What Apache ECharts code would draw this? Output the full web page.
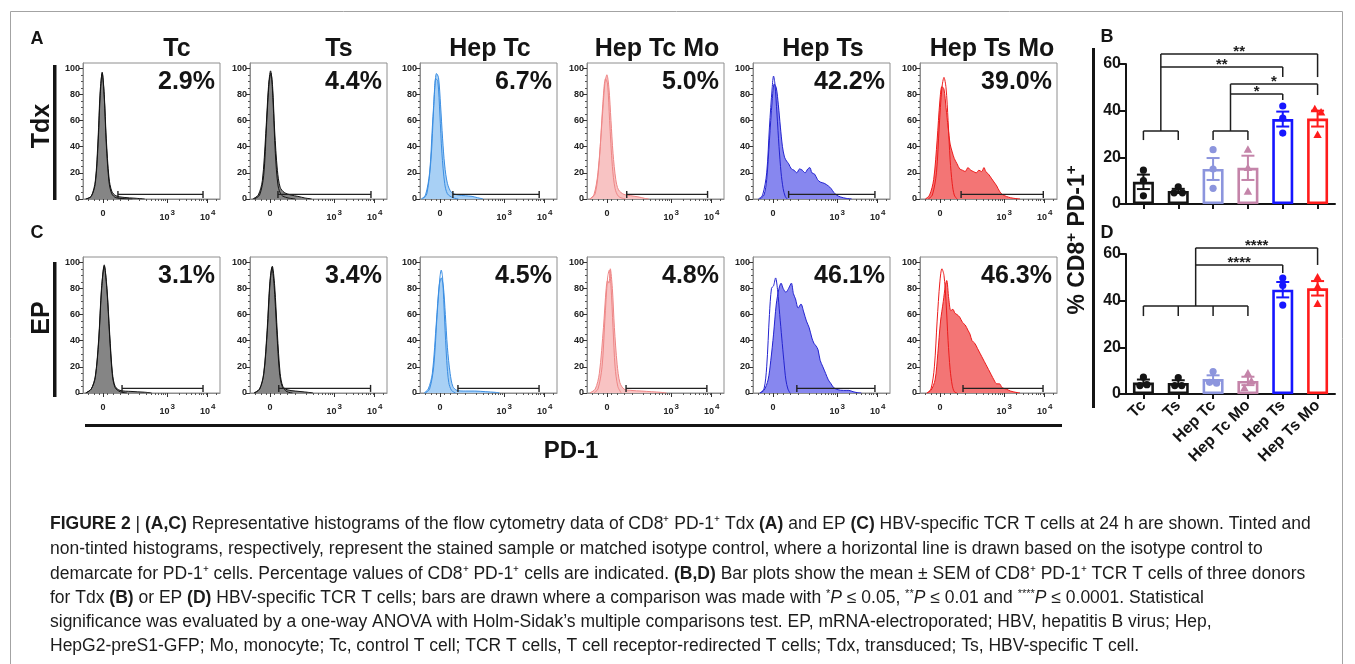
<!DOCTYPE html>
<html>
<head>
<meta charset="utf-8">
<script src="https://cdn.jsdelivr.net/npm/echarts@6/dist/echarts.min.js"></script>
<style>
  html, body { margin: 0; padding: 0; background: #ffffff; }
  #chart { width: 1355px; height: 664px; }
</style>
</head>
<body>
<div id="chart"></div>
<script>
// ---------- Histogram panels (A: Tdx, C: EP) ----------
const histTitles = ['Tc', 'Ts', 'Hep Tc', 'Hep Tc Mo', 'Hep Ts', 'Hep Ts Mo'];
const rowLabels = ['Tdx', 'EP'];
const tdxPercent = ['2.9%', '4.4%', '6.7%', '5.0%', '42.2%', '39.0%'];
const epPercent = ['3.1%', '3.4%', '4.5%', '4.8%', '46.1%', '46.3%'];

// PD-1 axis is drawn on a 0-100 display scale (biexponential position)
const histTickPos = [14.6, 61.5, 91];
const histTickLabels = ['0', '10^3', '10^4'];
const histMinorTicks = [4, 8, 11.5, 18, 22, 27, 33, 40.9, 46.1, 49.8, 52.6, 54.9, 56.9, 58.6, 60.2,
  70.4, 75.6, 79.3, 82.1, 84.5, 86.4, 88.1, 89.6, 97];
const histYTicks = [0, 20, 40, 60, 80, 100];
const histYMinor = [5, 10, 15, 25, 30, 35, 45, 50, 55, 65, 70, 75, 85, 90, 95];

// Stained (tinted) histograms, Tdx row: [PD-1 position, % of max]
const tdxStained = [
  [[2,0],[6,2],[9,12],[11,42],[12.5,78],[14,97],[15.5,80],[17,46],[19,16],[21,6],[24,2.5],[30,1.2],[38,0.6],[45,0]],
  [[2,0],[6,3],[9,14],[11.5,50],[13.5,86],[15,98],[16.5,86],[18,52],[20,22],[22,9],[25,5],[30,3],[35,2],[40,0.8],[45,0]],
  [[1,0],[4,3],[7,20],[9,55],[11,88],[12,96],[13.5,93],[15,72],[16.5,46],[18,26],[20,12],[23,5],[28,3],[33,2.5],[38,2],[42,1],[46,0]],
  [[2,0],[5,3],[8,20],[11,60],[13,88],[14.5,95],[16,85],[17.5,60],[19,35],[21,15],[23,7],[27,3.5],[32,2.5],[38,1.5],[42,0.5],[45,0]],
  [[5,0],[8,3],[10,15],[12,45],[14,75],[15.5,88],[17,85],[18.5,72],[20,55],[21.5,40],[23,32],[24.5,29],[26,27],[28,23],[30,22],[32,20],[34,23],[36,22],[38,20],[40,23],[41.5,24],[43,20],[45,19],[47,15],[49,13],[52,12],[55,10],[57,8],[59,5],[61,3],[64,1.5],[68,0.5],[72,0]],
  [[4,0],[7,3],[10,15],[12.5,45],[14.5,75],[16,86],[17.5,84],[19,70],[20.5,55],[22,42],[23.5,36],[25,31],[27,27],[29,23],[31,22],[33,21],[35,24],[37,22],[39,21],[41,20],[43,22],[45,21],[46.7,24],[48,21],[50,19],[52,16],[54,13],[56,10],[58,6],[60,3.5],[63,2],[66,1],[70,0.3],[73,0]]
];
// Isotype control (outline) histograms, Tdx row
const tdxIsotype = [
  [[2,0],[6,2],[9,14],[11,46],[12.5,82],[14,96],[15.5,78],[17,42],[19,13],[21,4],[24,1],[30,0.3],[36,0]],
  [[3,0],[7,3],[10,18],[12,55],[14,90],[15.3,96],[16.8,75],[18.5,35],[20.5,10],[23,3],[27,1],[33,0]],
  [[2,0],[5,4],[8,30],[10,70],[11.5,92],[13,90],[14.5,65],[16,35],[18,12],[20,4],[24,1],[28,0]],
  [[2,0],[6,4],[9,30],[11.5,72],[13.5,92],[15,88],[16.5,60],[18.5,25],[20.5,8],[23,2],[28,0]],
  [[4,0],[7,3],[10,20],[12,55],[14,85],[15,94],[16,88],[17.5,65],[19,40],[20.5,20],[22,8],[23.5,2],[25,0]],
  [[6,0],[9,3],[12,20],[14,55],[16,85],[17.5,93],[19,85],[20.5,60],[22,30],[23.5,12],[25,3],[27,0]]
];
// Stained histograms, EP row
const epStained = [
  [[2,0],[6,3],[9,12],[11.5,40],[13.5,78],[15.5,98],[17.5,80],[19.5,45],[21.5,15],[23.5,5],[27,2],[35,1.2],[45,0.6],[50,0]],
  [[3,0],[7,3],[10,14],[12.5,45],[14.5,82],[16.3,97],[18,82],[20,45],[22,15],[24,5],[27,2.5],[33,1.5],[40,0.8],[46,0]],
  [[3,0],[6,3],[9,15],[12,55],[14,82],[15.5,88],[17,82],[18.5,60],[20,35],[22,15],[24,5],[27,2],[33,1.5],[40,1.5],[48,1],[55,0.5],[58,0]],
  [[2,0],[6,3],[9,15],[12,50],[14,80],[15,86],[16,84],[17,95],[18.5,80],[20,50],[22,22],[24,8],[27,3],[32,2],[40,1.5],[47,1],[54,0.5],[58,0]],
  [[5,0],[8,2],[11,10],[13,25],[15,45],[17,68],[19,80],[20.5,84],[22,80],[24,77],[26,80],[28,84],[29.5,76],[31,72],[33,65],[35,68],[37,62],[39,55],[41,50],[43,42],[44.5,38],[46,36],[47.5,33],[49,25],[51,20],[53,15],[55,10],[57,7],[59,4],[62,2.5],[66,2],[70,2],[73,1],[76,0.3],[79,0]],
  [[5,0],[8,2],[11,10],[13,30],[15,55],[17,70],[18.5,82],[19.5,86],[21,72],[22.5,63],[24,64],[25.5,61],[27,60],[29,58],[31,54],[33,52],[35,48],[36.5,45],[38,40],[40,38],[42,34],[44,30],[46,26],[48,22],[50,18],[52,14],[54,10],[56,7],[58,7],[60,4],[63,3],[66,1.5],[70,0.5],[73,0]]
];
// Isotype control histograms, EP row
const epIsotype = [
  [[2,0],[6,3],[9,13],[11.5,42],[13.5,80],[15.5,97],[17.5,78],[19.5,42],[21.5,13],[23.5,4],[27,1],[32,0]],
  [[3,0],[7,3],[10,15],[12.5,48],[14.5,85],[16,96],[17.5,84],[19.5,48],[21.5,16],[23.5,5],[27,1],[31,0]],
  [[4,0],[7,3],[10,20],[12.5,60],[14.5,88],[15.5,94],[16.5,88],[18,55],[19.5,25],[21,8],[23,2],[26,0]],
  [[5,0],[8,3],[11,20],[13,55],[15,88],[16.3,94],[17.5,82],[19,50],[20.5,20],[22.5,5],[25,0]],
  [[5,0],[8,3],[10,20],[12,60],[13.5,80],[15,82],[16.5,88],[18,78],[19.5,60],[21,42],[22.5,25],[24,10],[25.5,3],[27,0]],
  [[5,0],[8,3],[10.5,20],[12.5,55],[14.5,85],[16,95],[17.5,90],[19,70],[20.5,40],[22,18],[23.5,6],[25,1],[27,0]]
];
// PD-1+ gates set on the isotype control: [start, end] on the PD-1 scale
const tdxGate = [[25.5, 87.6], [20.4, 88.3], [24, 87], [29, 88], [26, 89], [30, 90]];
const epGate = [[28.5, 87.6], [21, 88], [27.7, 86.9], [28.5, 87.5], [32, 89], [31.4, 89.8]];
const gateLevel = 3.5;

// ---------- Bar plots (B: Tdx, D: EP) ----------
const groups = ['Tc', 'Ts', 'Hep Tc', 'Hep Tc Mo', 'Hep Ts', 'Hep Ts Mo'];
const tdxMean = [9.5, 5.6, 15.0, 15.5, 36.4, 36.6];
const tdxSem = [3.1, 0.9, 4.7, 5.2, 3.2, 3.4];
const tdxDonors = [[14.5, 10, 3.5], [7.3, 4.8, 4.8], [23.3, 15, 6.7], [23.3, 15.5, 5.3], [42, 36.8, 30.4], [40.7, 39.3, 29.7]];
const tdxJitter = [[0, 0, 0], [0, -0.12, 0.12], [0, 0, 0], [0, 0, 0], [0, 0, 0], [-0.08, 0.1, 0]];
const epMean = [4.9, 4.7, 6.4, 5.6, 44.7, 45.3];
const epSem = [1.3, 1.2, 1.6, 1.8, 3.3, 3.1];
const epDonors = [[7.2, 3.6, 4.0], [7.0, 3.6, 3.6], [9.6, 5.0, 4.6], [8.9, 5.5, 2.6], [49.7, 46.5, 38.1], [50.0, 46.1, 38.7]];
const epJitter = [[0, -0.1, 0.1], [0, -0.1, 0.1], [0, -0.1, 0.1], [0, 0.1, -0.1], [0, 0, 0], [0, 0, 0]];

// Significance comparisons: [from category, to category, line value, end value, stars]
const tdxCompare = [[0.5, 5, 64.3, 54.4, '**'], [0.5, 4, 58.7, 54.4, '**'], [2.5, 5, 51.4, 46.7, '*'], [2.5, 4, 47.1, 44.6, '*']];
// Pooled groups: [first category, last category, line value, end value, stem category, stem top]
const tdxPools = [[0, 1, 31.3, 27.4, 0.5, 64.3], [2, 3, 31.3, 27.4, 2.5, 51.4]];
const epCompare = [[1.5, 5, 62.6, 55.3, '****'], [1.5, 4, 55.3, 51.9, '****']];
const epPools = [[0, 3, 37.7, 33.4, 1.5, 62.6]];

const captionLines = [
  '{b|FIGURE 2} | {b|(A,C)} Representative histograms of the flow cytometry data of CD8⁺ PD-1⁺ Tdx {b|(A)} and EP {b|(C)} HBV-specific TCR T cells at 24 h are shown. Tinted and',
  'non-tinted histograms, respectively, represent the stained sample or matched isotype control, where a horizontal line is drawn based on the isotype control to',
  'demarcate for PD-1⁺ cells. Percentage values of CD8⁺ PD-1⁺ cells are indicated. {b|(B,D)} Bar plots show the mean ± SEM of CD8⁺ PD-1⁺ TCR T cells of three donors',
  'for Tdx {b|(B)} or EP {b|(D)} HBV-specific TCR T cells; bars are drawn where a comparison was made with {s|*}{i|P} ≤ 0.05, {s|**}{i|P} ≤ 0.01 and {s|****}{i|P} ≤ 0.0001. Statistical',
  'significance was evaluated by a one-way ANOVA with Holm-Sidak’s multiple comparisons test. EP, mRNA-electroporated; HBV, hepatitis B virus; Hep,',
  'HepG2-preS1-GFP; Mo, monocyte; Tc, control T cell; TCR T cells, T cell receptor-redirected T cells; Tdx, transduced; Ts, HBV-specific T cell.'
];

// ---------- Styling and layout ----------
const FONT = '"Liberation Sans", Arial, Helvetica, sans-serif';
const INK = '#141414';
const histColors = [
  { fill: '#858585', line: '#141414' },
  { fill: '#858585', line: '#141414' },
  { fill: '#a8d0f5', line: '#3b8ee2' },
  { fill: '#f8c3c3', line: '#ee8686' },
  { fill: '#8787ef', line: '#2323cf' },
  { fill: '#f37575', line: '#ec1c1c' }
];
const groupColors = ['#141414', '#141414', '#8c95dd', '#c484a9', '#1616ff', '#ff1c1c'];
const groupMarker = ['circle', 'circle', 'circle', 'triangle', 'circle', 'triangle'];

const colLeft = [83, 250, 420, 587, 753, 920];
const PANEL_W = 137, PANEL_H = 136;
const rowTop = [63, 257];
const titleX = [177, 339, 490, 657, 823, 992];

const chart = echarts.init(document.getElementById('chart'), null, { renderer: 'canvas', width: 1355, height: 664 });

const grids = [], xAxes = [], yAxes = [], series = [], graphics = [];

function histTickText(v) {
  const k = histTickPos.indexOf(v);
  const t = k < 0 ? '' : histTickLabels[k];
  const parts = t.split('^');
  return parts.length === 2 ? '{n|' + parts[0] + '}{s|' + parts[1] + '}' : '{n|' + t + '}';
}

const rows = [
  { stained: tdxStained, isotype: tdxIsotype, gate: tdxGate, pct: tdxPercent },
  { stained: epStained, isotype: epIsotype, gate: epGate, pct: epPercent }
];

rows.forEach((row, r) => {
  for (let c = 0; c < 6; c++) {
    const g = grids.length;
    grids.push({ left: colLeft[c], top: rowTop[r], width: PANEL_W, height: PANEL_H, show: true, borderColor: '#8e8e8e', borderWidth: 1 });
    const xi = xAxes.length;
    xAxes.push({
      gridIndex: g, type: 'value', min: 0, max: 100, position: 'bottom',
      axisLine: { show: true, onZero: false, lineStyle: { color: '#8e8e8e', width: 1 } },
      axisTick: { show: true, customValues: histTickPos, length: 4, lineStyle: { color: '#333', width: 1 } },
      axisLabel: {
        show: true, customValues: histTickPos, formatter: histTickText, margin: 10,
        rich: {
          n: { fontFamily: FONT, fontSize: 9, fontWeight: 'bold', color: '#222' },
          s: { fontFamily: FONT, fontSize: 8, fontWeight: 'bold', color: '#222', padding: [0, 0, 10, 1] }
        }
      },
      splitLine: { show: false }
    });
    xAxes.push({
      gridIndex: g, type: 'value', min: 0, max: 100, position: 'bottom',
      axisLine: { show: false },
      axisTick: { show: true, customValues: histMinorTicks, length: 2, lineStyle: { color: '#555', width: 1 } },
      axisLabel: { show: false }, splitLine: { show: false }
    });
    const yi = yAxes.length;
    yAxes.push({
      gridIndex: g, type: 'value', min: 0, max: 104, position: 'left',
      axisLine: { show: true, onZero: false, lineStyle: { color: '#8e8e8e', width: 1 } },
      axisTick: { show: true, customValues: histYTicks, length: 4, lineStyle: { color: '#333', width: 1 } },
      axisLabel: { show: true, customValues: histYTicks, margin: 3, fontFamily: FONT, fontSize: 9, fontWeight: 'bold', color: '#222' },
      splitLine: { show: false }
    });
    yAxes.push({
      gridIndex: g, type: 'value', min: 0, max: 104, position: 'left',
      axisLine: { show: false },
      axisTick: { show: true, customValues: histYMinor, length: 2, lineStyle: { color: '#555', width: 1 } },
      axisLabel: { show: false }, splitLine: { show: false }
    });
    const col = histColors[c];
    series.push({
      type: 'line', xAxisIndex: xi, yAxisIndex: yi, data: row.stained[c], smooth: 0.3,
      showSymbol: false, symbol: 'none', silent: true, z: 2,
      lineStyle: { color: col.line, width: 1 },
      areaStyle: { color: col.fill, opacity: 1 }
    });
    series.push({
      type: 'line', xAxisIndex: xi, yAxisIndex: yi, data: row.isotype[c], smooth: 0.3,
      showSymbol: false, symbol: 'none', silent: true, z: 3,
      lineStyle: { color: col.line, width: 1 }
    });
    series.push({
      type: 'line', xAxisIndex: xi, yAxisIndex: yi,
      data: [[row.gate[c][0], gateLevel], [row.gate[c][1], gateLevel]],
      symbol: 'rect', symbolSize: [1.4, 7], showSymbol: true, silent: true, z: 4,
      lineStyle: { color: '#222', width: 1.3 }, itemStyle: { color: '#222' }
    });
    graphics.push({
      type: 'text', x: colLeft[c] + PANEL_W - 5, y: rowTop[r] + 19,
      style: { text: row.pct[c], align: 'right', verticalAlign: 'middle', textAlign: 'right', textVerticalAlign: 'middle',
        fontFamily: FONT, fontSize: 25, fontWeight: 'bold', fill: INK }
    });
  }
});

// column titles
histTitles.forEach((t, c) => {
  graphics.push({ type: 'text', x: titleX[c], y: 49,
    style: { text: t, align: 'center', verticalAlign: 'middle', textAlign: 'center', textVerticalAlign: 'middle',
      fontFamily: FONT, fontSize: 25, fontWeight: 'bold', fill: INK } });
});

// ---------- bar plot grids ----------
function catX(api, c) {
  const band = api.size([1, 0], [0, 0])[0];
  return api.coord([0, 0])[0] + c * band;
}

function addBarPlot(top, mean, sem, donors, jitter, compare, pools, showLabels) {
  const g = grids.length;
  grids.push({ left: 1126, top: top, width: 209, height: 140, show: false });
  const xi = xAxes.length, yi = yAxes.length;
  xAxes.push({
    gridIndex: g, type: 'category', data: groups, position: 'bottom',
    axisLine: { show: true, onZero: false, lineStyle: { color: INK, width: 2 } },
    axisTick: { show: true, alignWithLabel: true, length: 5, lineStyle: { color: INK, width: 2 } },
    axisLabel: { show: showLabels, interval: 0, rotate: 45, margin: 9, fontFamily: FONT, fontSize: 16, fontWeight: 'bold', color: INK },
    splitLine: { show: false }
  });
  yAxes.push({
    gridIndex: g, type: 'value', min: 0, max: 60, interval: 20, position: 'left',
    axisLine: { show: true, onZero: false, lineStyle: { color: INK, width: 2 } },
    axisTick: { show: true, length: 6, lineStyle: { color: INK, width: 2 } },
    axisLabel: { show: true, margin: 5, fontFamily: FONT, fontSize: 16, fontWeight: 'bold', color: INK },
    splitLine: { show: false }
  });
  series.push({
    type: 'bar', xAxisIndex: xi, yAxisIndex: yi, barWidth: 21, silent: true, z: 2,
    data: mean.map((v, i) => ({ value: v, itemStyle: { color: '#ffffff', borderColor: groupColors[i], borderWidth: 2.6 } }))
  });
  // mean ± SEM whiskers
  series.push({
    type: 'custom', coordinateSystem: 'cartesian2d', xAxisIndex: xi, yAxisIndex: yi, silent: true, z: 3,
    data: mean.map((m, i) => [i, m]),
    renderItem: function (params, api) {
      const i = params.dataIndex;
      const x = api.coord([i, 0])[0];
      const yTop = api.coord([i, mean[i] + sem[i]])[1];
      const yBot = api.coord([i, mean[i] - sem[i]])[1];
      const st = { stroke: groupColors[i], lineWidth: 2 };
      const hw = 6.5;
      return { type: 'group', children: [
        { type: 'line', shape: { x1: x, y1: yTop, x2: x, y2: yBot }, style: st },
        { type: 'line', shape: { x1: x - hw, y1: yTop, x2: x + hw, y2: yTop }, style: st },
        { type: 'line', shape: { x1: x - hw, y1: yBot, x2: x + hw, y2: yBot }, style: st }
      ] };
    }
  });
  // individual donors
  const pts = [];
  donors.forEach((arr, i) => arr.forEach((v, k) => pts.push([i, v, jitter[i][k]])));
  series.push({
    type: 'custom', coordinateSystem: 'cartesian2d', xAxisIndex: xi, yAxisIndex: yi, silent: true, z: 4,
    data: pts,
    renderItem: function (params, api) {
      const i = api.value(0), v = api.value(1), j = api.value(2);
      const x = catX(api, i + j), y = api.coord([0, v])[1];
      const fill = groupColors[i];
      if (groupMarker[i] === 'triangle') {
        return { type: 'polygon', shape: { points: [[x, y - 4.3], [x + 4.2, y + 3.2], [x - 4.2, y + 3.2]] }, style: { fill: fill } };
      }
      return { type: 'circle', shape: { cx: x, cy: y, r: 3.6 }, style: { fill: fill } };
    }
  });
  // pooled-group brackets and comparison lines
  const BR = { stroke: '#1e1e1e', lineWidth: 1.5 };
  series.push({
    type: 'custom', coordinateSystem: 'cartesian2d', xAxisIndex: xi, yAxisIndex: yi, silent: true, z: 5, clip: false,
    data: pools.map(() => [0, 0]),
    renderItem: function (params, api) {
      const p = pools[params.dataIndex];
      const yL = api.coord([0, p[2]])[1], yE = api.coord([0, p[3]])[1], yS = api.coord([0, p[5]])[1];
      const children = [
        { type: 'line', shape: { x1: catX(api, p[0]), y1: yL, x2: catX(api, p[1]), y2: yL }, style: BR },
        { type: 'line', shape: { x1: catX(api, p[4]), y1: yL, x2: catX(api, p[4]), y2: yS }, style: BR }
      ];
      for (let c = p[0]; c <= p[1]; c++) {
        children.push({ type: 'line', shape: { x1: catX(api, c), y1: yL, x2: catX(api, c), y2: yE }, style: BR });
      }
      return { type: 'group', children: children };
    }
  });
  series.push({
    type: 'custom', coordinateSystem: 'cartesian2d', xAxisIndex: xi, yAxisIndex: yi, silent: true, z: 5, clip: false,
    data: compare.map(() => [0, 0]),
    renderItem: function (params, api) {
      const b = compare[params.dataIndex];
      const x1 = catX(api, b[0]), x2 = catX(api, b[1]);
      const yL = api.coord([0, b[2]])[1], yE = api.coord([0, b[3]])[1];
      return { type: 'group', children: [
        { type: 'line', shape: { x1: x1, y1: yL, x2: x2, y2: yL }, style: BR },
        { type: 'line', shape: { x1: x2, y1: yL, x2: x2, y2: yE }, style: BR },
        { type: 'text', style: { text: b[4], x: (x1 + x2) / 2, y: yL - 2, align: 'center', verticalAlign: 'middle',
          fontFamily: FONT, fontSize: 15, fontWeight: 'bold', fill: '#1e1e1e' } }
      ] };
    }
  });
}

addBarPlot(64, tdxMean, tdxSem, tdxDonors, tdxJitter, tdxCompare, tdxPools, false);
addBarPlot(254, epMean, epSem, epDonors, epJitter, epCompare, epPools, true);

// ---------- figure furniture: panel letters, row labels, shared axis titles ----------
function label(text, x, y, size, extra) {
  return Object.assign({ type: 'text', x: x, y: y,
    style: { text: text, align: 'center', verticalAlign: 'middle', textAlign: 'center', textVerticalAlign: 'middle',
      fontFamily: FONT, fontSize: size, fontWeight: 'bold', fill: INK } }, extra || {});
}
graphics.push({ type: 'rect', shape: { x: 10.5, y: 11.5, width: 1332, height: 720 }, style: { fill: 'none', stroke: '#a3a3a3', lineWidth: 1 } });
graphics.push(label('A', 37, 39, 18));
graphics.push(label('C', 37, 233, 18));
graphics.push(label('B', 1107, 37, 18));
graphics.push(label('D', 1107, 233, 18));
graphics.push(label(rowLabels[0], 42, 126, 25, { rotation: Math.PI / 2 }));
graphics.push(label(rowLabels[1], 42, 318, 25, { rotation: Math.PI / 2 }));
graphics.push({ type: 'rect', shape: { x: 53, y: 65, width: 3.5, height: 135 }, style: { fill: INK } });
graphics.push({ type: 'rect', shape: { x: 53, y: 262, width: 3.5, height: 135 }, style: { fill: INK } });
graphics.push({ type: 'rect', shape: { x: 85, y: 424, width: 977, height: 3 }, style: { fill: INK } });
graphics.push(label('PD-1', 571, 451, 24));
graphics.push({ type: 'rect', shape: { x: 1092, y: 48, width: 3, height: 360 }, style: { fill: INK } });
graphics.push({
  type: 'text', x: 1078, y: 240, rotation: Math.PI / 2,
  style: {
    text: '{t|% CD8}{p|+}{t| PD-1}{p|+}', align: 'center', verticalAlign: 'middle', textAlign: 'center', textVerticalAlign: 'middle',
    rich: {
      t: { fontFamily: FONT, fontSize: 23, fontWeight: 'bold', fill: INK },
      p: { fontFamily: FONT, fontSize: 15, fontWeight: 'bold', fill: INK, padding: [0, 0, 12, 0] }
    }
  }
});

// ---------- caption ----------
const captionSize = 17.5;
const CAP = '#1c1c1c';
const richCap = {
  b: { fontFamily: FONT, fontSize: captionSize, fontWeight: 'bold', fill: CAP },
  i: { fontFamily: FONT, fontSize: captionSize, fontStyle: 'italic', fill: CAP },
  s: { fontFamily: FONT, fontSize: 11, fill: CAP, padding: [0, 0, 8, 0] }
};
const captionY = [524, 549, 574, 598, 622, 646];
captionLines.forEach((t, k) => {
  graphics.push({
    type: 'text', x: 50, y: captionY[k],
    style: { text: t, align: 'left', verticalAlign: 'middle', textAlign: 'left', textVerticalAlign: 'middle',
      fontFamily: FONT, fontSize: captionSize, fill: CAP, rich: richCap }
  });
});

chart.setOption({
  animation: false,
  backgroundColor: '#ffffff',
  grid: grids,
  xAxis: xAxes,
  yAxis: yAxes,
  series: series,
  graphic: { elements: graphics }
});
</script>
</body>
</html>
